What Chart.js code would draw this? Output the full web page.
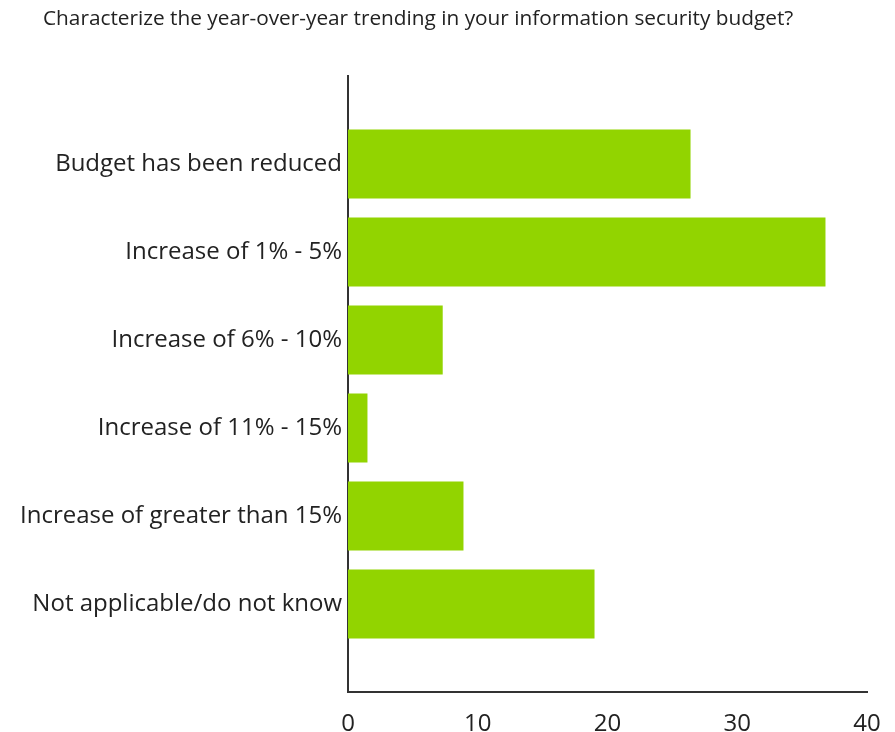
<!DOCTYPE html>
<html>
<head>
<meta charset="utf-8">
<script src="https://cdn.jsdelivr.net/npm/chart.js@4"></script>
<style>
    html, body { margin: 0; padding: 0; background: #fff; }
    .chart-box { position: relative; width: 895px; height: 732px; }
    .chart-title {
        position: absolute;
        left: 43px;
        top: 3px;
        margin: 0;
        font: normal 20.8px 'Open Sans', 'DejaVu Sans', sans-serif;
        color: #222;
        white-space: nowrap;
    }
</style>
</head>
<body>
<div class="chart-box">
    <h3 class="chart-title" id="chartTitle"></h3>
    <canvas id="budgetChart"></canvas>
</div>
<script>
const titleText = 'Characterize the year-over-year trending in your information security budget?';

const categories = [
    'Budget has been reduced',
    'Increase of 1% - 5%',
    'Increase of 6% - 10%',
    'Increase of 11% - 15%',
    'Increase of greater than 15%',
    'Not applicable/do not know'
];
const responses = [26.4, 36.8, 7.3, 1.5, 8.9, 19.0];
const xTicks = [0, 10, 20, 30, 40];

const barColor = '#92d400';
const axisColor = '#333333';
const textColor = '#222222';
const fontFamily = "'Open Sans', 'DejaVu Sans', sans-serif";

document.getElementById('chartTitle').textContent = titleText;

// blank slots at both ends leave an empty band above and below the bars
const labels = [''].concat(categories, ['']);
const values = [null].concat(responses, [null]);

const ctx = document.getElementById('budgetChart').getContext('2d');

const budgetChart = new Chart(ctx, {
    type: 'bar',
    data: {
        labels: labels,
        datasets: [{
            data: values,
            backgroundColor: barColor,
            borderWidth: 0,
            categoryPercentage: 1,
            barPercentage: 0.785
        }]
    },
    options: {
        indexAxis: 'y',
        responsive: true,
        maintainAspectRatio: false,
        animation: false,
        layout: {
            padding: { left: 0, right: 28, top: 76, bottom: 0 }
        },
        plugins: {
            legend: { display: false },
            tooltip: { enabled: false },
            title: { display: false }
        },
        scales: {
            x: {
                min: 0,
                max: 40,
                afterBuildTicks: (scale) => {
                    scale.ticks = xTicks.map(v => ({ value: v }));
                },
                afterFit: (scale) => {
                    scale.height = 40;
                    // the layout padding already leaves room for the "40" label
                    scale.paddingLeft = 0;
                    scale.paddingRight = 0;
                },
                grid: { display: false, drawTicks: false },
                border: { display: true, color: axisColor, width: 2 },
                ticks: {
                    color: textColor,
                    padding: 18,
                    font: { size: 24, family: fontFamily }
                }
            },
            y: {
                offset: false,
                afterFit: (scale) => {
                    scale.width = 348;
                },
                grid: { display: false, drawTicks: false },
                border: { display: true, color: axisColor, width: 2 },
                ticks: {
                    color: textColor,
                    padding: 6,
                    autoSkip: false,
                    font: { size: 24, family: fontFamily }
                }
            }
        }
    }
});
</script>
</body>
</html>
